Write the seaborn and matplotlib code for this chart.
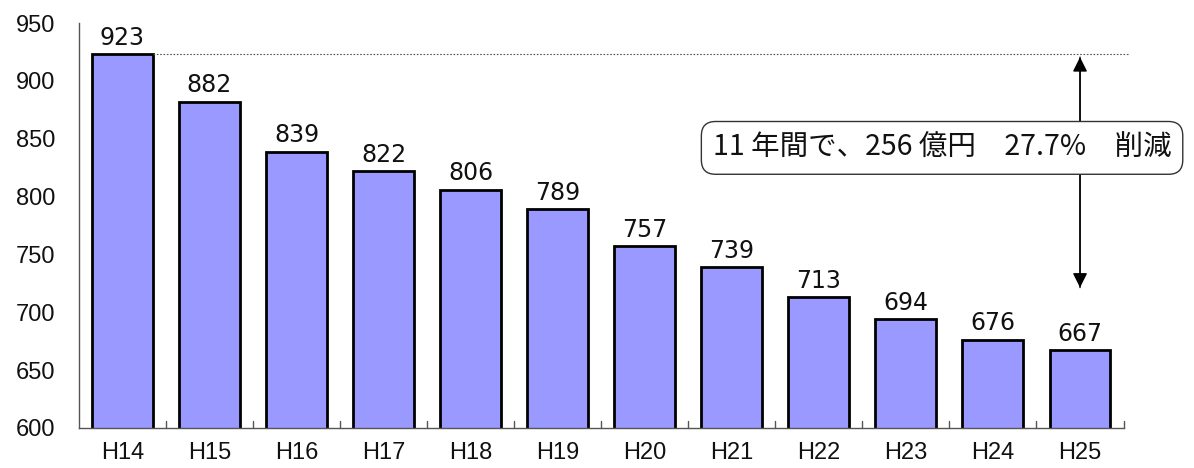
import matplotlib
matplotlib.use("Agg")
import matplotlib.pyplot as plt
import seaborn as sns
import pandas as pd

categories = ["H14", "H15", "H16", "H17", "H18", "H19", "H20", "H21", "H22", "H23", "H24", "H25"]
values = [923, 882, 839, 822, 806, 789, 757, 739, 713, 694, 676, 667]
yticks = [600, 650, 700, 750, 800, 850, 900, 950]
note = "11 年間で、256 億円　27.7%　削減"

sns.set_theme(style="white")
plt.rcParams['font.family'] = ['Liberation Sans', 'Noto Sans CJK JP']

df = pd.DataFrame({"year": categories, "value": values})

fig = plt.figure(figsize=(11.94, 4.68), dpi=100)
ax = fig.add_axes([0.066, 0.0855, 0.875, 0.865])

sns.barplot(data=df, x="year", y="value", color="#9999FF", saturation=1,
            edgecolor="black", linewidth=2, width=0.7, ax=ax)

ax.set_ylim(600, 950)
ax.set_xlim(-0.5, len(categories) - 0.5)
ax.set_yticks(yticks)
ax.set_yticklabels([str(t) for t in yticks], fontsize=17, color="#111111")
ax.tick_params(axis="y", direction="in", length=8, width=1, color="#333333", pad=17)
ax.set_xticks(range(len(categories)))
ax.set_xticklabels(categories, fontsize=17, color="#111111")
ax.tick_params(axis="x", length=0, pad=10)
# category boundary ticks on x axis
for b in [i + 0.5 for i in range(len(categories))]:
    ax.plot([b, b], [600, 606], color="#555555", lw=1, clip_on=False)

ax.set_xlabel("")
ax.set_ylabel("")
for s in ["top", "right"]:
    ax.spines[s].set_visible(False)
for s in ["left", "bottom"]:
    ax.spines[s].set_color("#555555")
    ax.spines[s].set_linewidth(1)

for i, v in enumerate(values):
    ax.text(i, v + 4, str(v), ha="center", va="bottom", fontsize=17,
            family="DejaVu Sans", color="#111111")

# dotted reference line at max
ax.plot([0.35, 11.55], [values[0], values[0]], ls=(0, (1.5, 1.5)), color="#555555", lw=0.8, clip_on=False)

# double arrow
ax.annotate("", xy=(11.0, 719), xytext=(11.0, values[0]),
            arrowprops=dict(arrowstyle="-|>", color="black", lw=1, mutation_scale=22))
ax.annotate("", xy=(11.0, values[0]), xytext=(11.0, 719),
            arrowprops=dict(arrowstyle="-|>", color="black", lw=1, mutation_scale=22))

fig.text(0.789, 0.684, note, ha="center", va="center", fontsize=20.5,
         family=['Noto Sans CJK JP', 'DejaVu Sans'], color="#111111",
         bbox=dict(boxstyle="round,pad=0.4,rounding_size=0.5", fc="white", ec="#333333", lw=1))

fig.savefig("out.png", dpi=100)
